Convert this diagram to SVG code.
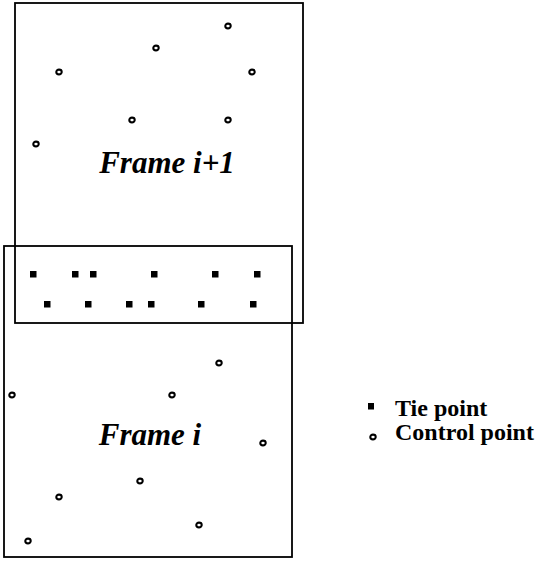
<svg xmlns="http://www.w3.org/2000/svg" width="538" height="569" viewBox="0 0 538 569">
<style>
.frame{fill:none;stroke:#000;stroke-width:1.8}
.cp{fill:none;stroke:#000;stroke-width:2.1}
.tp{fill:#000}
.title{font-family:"Liberation Serif",serif;font-weight:bold;font-style:italic;font-size:31px;fill:#000}
.leg{font-family:"Liberation Serif",serif;font-weight:bold;font-size:24px;fill:#000}
</style>
<defs>
<ellipse id="c" cx="0" cy="0" rx="2.7" ry="2.4" class="cp"/>
<rect id="s" x="-3" y="-3" width="6.5" height="6.5" class="tp"/>
</defs>
<g id="frame-i1">
<rect class="frame" x="15" y="3" width="288" height="320"/>
<text class="title" x="167" y="173" text-anchor="middle">Frame i+1</text>
<use href="#c" x="228" y="26"/>
<use href="#c" x="156" y="48"/>
<use href="#c" x="59" y="72"/>
<use href="#c" x="252" y="72"/>
<use href="#c" x="132" y="120"/>
<use href="#c" x="228" y="120"/>
<use href="#c" x="36" y="144"/>
</g>
<g id="frame-i">
<rect class="frame" x="4" y="246" width="288" height="311"/>
<text class="title" x="150" y="445" text-anchor="middle">Frame i</text>
<use href="#c" x="219" y="363"/>
<use href="#c" x="12" y="395"/>
<use href="#c" x="172" y="395"/>
<use href="#c" x="263" y="443"/>
<use href="#c" x="140" y="481"/>
<use href="#c" x="59" y="497"/>
<use href="#c" x="199" y="525"/>
<use href="#c" x="28" y="541"/>
</g>
<g id="tie-points">
<use href="#s" x="33" y="274"/>
<use href="#s" x="75" y="274"/>
<use href="#s" x="93" y="274"/>
<use href="#s" x="154" y="274"/>
<use href="#s" x="215" y="274"/>
<use href="#s" x="257" y="274"/>
<use href="#s" x="47" y="304"/>
<use href="#s" x="88" y="304"/>
<use href="#s" x="129" y="304"/>
<use href="#s" x="151" y="304"/>
<use href="#s" x="201" y="304"/>
<use href="#s" x="253" y="304"/>
</g>
<g id="legend">
<rect x="368" y="403" width="6" height="6.5" class="tp"/>
<text class="leg" x="395" y="416">Tie point</text>
<use href="#c" x="373" y="437"/>
<text class="leg" x="395" y="440">Control point</text>
</g>
</svg>
